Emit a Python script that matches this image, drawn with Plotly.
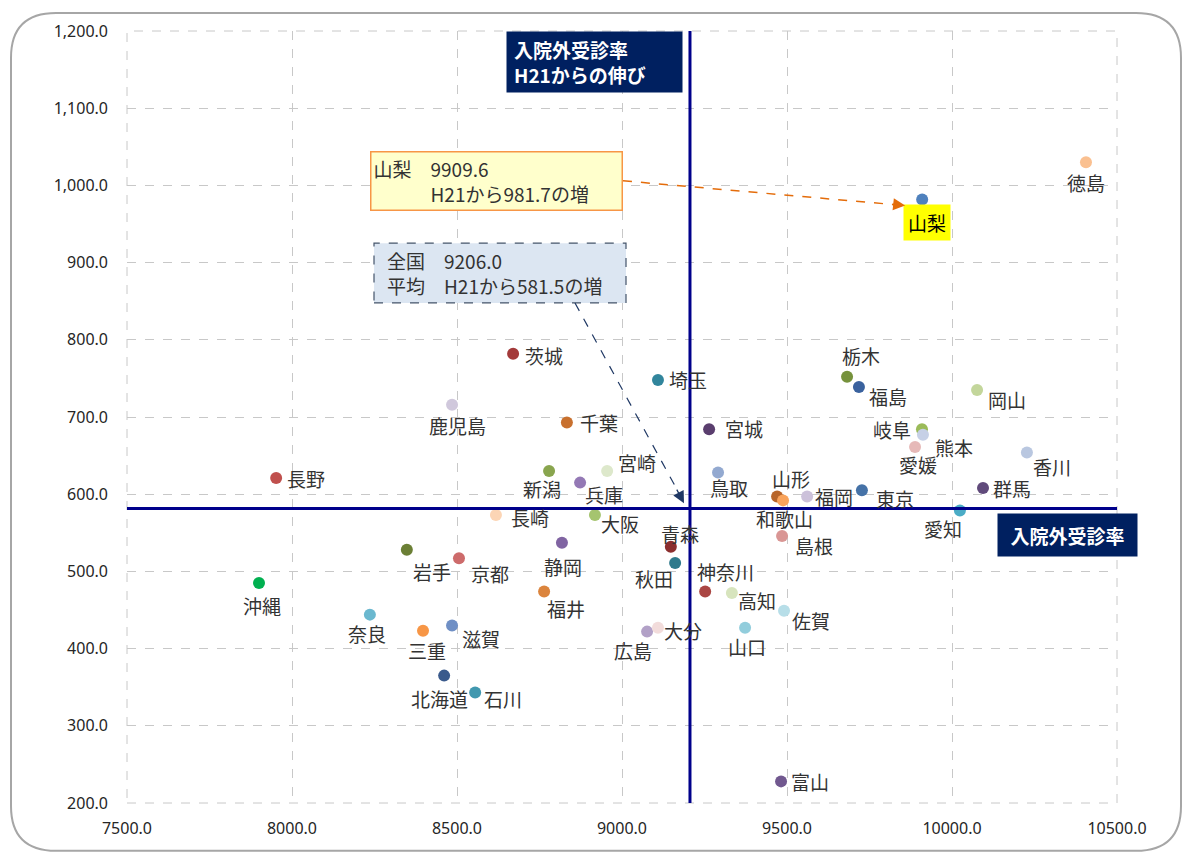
import plotly.graph_objects as go

# 都道府県ごとの入院外受診率 (x) と H21からの伸び (y)
prefs = ["北海道", "青森", "岩手", "宮城", "秋田", "山形", "福島", "茨城", "栃木", "群馬",
         "埼玉", "千葉", "東京", "神奈川", "新潟", "富山", "石川", "福井", "山梨", "長野",
         "岐阜", "静岡", "愛知", "三重", "滋賀", "京都", "大阪", "兵庫", "奈良", "和歌山",
         "鳥取", "島根", "岡山", "広島", "山口", "徳島", "香川", "愛媛", "高知", "福岡",
         "佐賀", "長崎", "熊本", "大分", "宮崎", "鹿児島", "沖縄"]
rate = [8461, 9148, 8348, 9264, 9161, 9470, 9718, 8670, 9682, 10094,
        9109, 8833, 9727, 9252, 8779, 9482, 8555, 8764, 9909.6, 7952,
        9909, 8818, 10024, 8397, 8485, 8506, 8918, 8873, 8236, 9488,
        9291, 9485, 10076, 9076, 9373, 10406, 10227, 9888, 9333, 9561,
        9491, 8618, 9912, 9109, 8955, 8485, 7900]
growth = [365, 532, 528, 684, 511, 597, 739, 782, 752, 608,
          748, 693, 605, 474, 630, 228, 343, 474, 981.7, 621,
          684, 537, 579, 423, 430, 517, 573, 615, 444, 592,
          628, 546, 735, 422, 427, 1030, 654, 661, 472, 597,
          449, 573, 677, 427, 630, 716, 485]
colors = ["#3A5A8C", "#8B2E2E", "#6B7F35", "#5A3E6E", "#2E7A8C", "#B8652A", "#3A629E", "#A33A3A", "#76923C", "#604A7B",
          "#31859C", "#C8702E", "#4572A7", "#AA4643", "#89A54E", "#71588F", "#4198AF", "#DB843D", "#4F81BD", "#C0504D",
          "#9BBB59", "#8064A2", "#4BACC6", "#F79646", "#6F8FC5", "#CD6B6B", "#A5C46F", "#9479B5", "#6BB8CF", "#F9A35B",
          "#93A9D0", "#D99694", "#C3D69B", "#B2A1C7", "#92CDDC", "#FAC090", "#B9C7E0", "#E6B9B8", "#D7E4BD", "#CCC1DA",
          "#B7DEE8", "#FCD5B5", "#C6D0E6", "#F2DCDB", "#DDE8CB", "#D0C8DC", "#00B050"]

avg_rate = 9206.0
avg_growth = 581.5

# ラベルのずらし量 (px)
label_offset = {
    "北海道": (-5, 23), "青森": (9, -13), "岩手": (25, 22), "宮城": (35, -1), "秋田": (-21, 16),
    "山形": (14, -18), "福島": (29, 10), "茨城": (31, 2), "栃木": (14, -21), "群馬": (29, 0),
    "埼玉": (30, 0), "千葉": (32, 0), "東京": (33, 8), "神奈川": (20, -20), "新潟": (-7, 17),
    "富山": (29, 0), "石川": (28, 6), "福井": (22, 17), "長野": (30, 1), "岐阜": (-30, 0),
    "静岡": (1, 24), "愛知": (-17, 18), "三重": (4, 20), "滋賀": (29, 13), "京都": (31, 15),
    "大阪": (25, 8), "兵庫": (24, 12), "奈良": (-3, 19), "和歌山": (1, 18), "鳥取": (11, 15),
    "島根": (32, 10), "岡山": (30, 10), "広島": (-14, 19), "山口": (2, 19), "徳島": (0, 20),
    "香川": (25, 14), "愛媛": (3, 17), "高知": (25, 7), "福岡": (27, 0), "佐賀": (27, 10),
    "長崎": (34, 2), "熊本": (31, 13), "大分": (25, 3), "宮崎": (30, -9), "鹿児島": (5, 21),
    "沖縄": (3, 23),
}

JP = "Noto Sans CJK JP"
NAVY = "#00008B"

fig = go.Figure()

fig.add_trace(go.Scatter(
    x=rate, y=growth, mode="markers",
    marker=dict(color=colors, size=12, line=dict(width=0)),
    text=prefs, hovertemplate="%{text}<br>%{x:.1f}<br>%{y:.1f}<extra></extra>",
    showlegend=False,
))

# 全国平均の線
fig.add_shape(type="line", xref="x", yref="paper", x0=avg_rate, x1=avg_rate, y0=0, y1=1,
              line=dict(color=NAVY, width=3))
fig.add_shape(type="line", xref="paper", yref="y", x0=0, x1=1, y0=avg_growth, y1=avg_growth,
              line=dict(color=NAVY, width=3))

# プロット枠 (点線)
fig.add_shape(type="rect", xref="paper", yref="paper", x0=0, x1=1, y0=0, y1=1,
              line=dict(color="#C8C8C8", width=1, dash="dash"), layer="below")

annotations = []
for name, xv, yv in zip(prefs, rate, growth):
    if name == "山梨":
        continue
    dx, dy = label_offset[name]
    annotations.append(dict(
        x=xv, y=yv, text=name, showarrow=False, xshift=dx, yshift=-dy,
        font=dict(family=JP, size=19, color="#333333"),
    ))

# 山梨 (黄色背景)
i_y = prefs.index("山梨")
annotations.append(dict(
    x=rate[i_y], y=growth[i_y], text="山梨", showarrow=False, xshift=5, yshift=-23,
    bgcolor="#FFFF00", borderpad=4, font=dict(family=JP, size=19, color="#000000"),
))

# 軸見出しボックス
annotations.append(dict(
    xref="paper", yref="paper", x=0.5616, y=1.0, xanchor="right", yanchor="top",
    text="<b>入院外受診率<br>H21からの伸び</b>", align="left", showarrow=False,
    bgcolor="#002060", width=161, height=46, borderpad=7,
    font=dict(family=JP, size=19, color="white"),
))
annotations.append(dict(
    xref="paper", yref="paper", x=0.9505, y=0.347, xanchor="center", yanchor="middle",
    text="<b>入院外受診率</b>", showarrow=False,
    bgcolor="#002060", width=135, height=38, borderpad=2,
    font=dict(family=JP, size=19, color="white"),
))

# 山梨の吹き出し
annotations.append(dict(
    xref="paper", yref="paper", x=(370 - 127) / 990, y=(803 - 178.5) / 775, xanchor="left", yanchor="middle",
    text="山梨　9909.6<br>　　　H21から981.7の増", align="left", showarrow=False,
    bgcolor="#FFFFCC", bordercolor="#F79646", borderwidth=1.5, width=246, height=53, borderpad=2,
    font=dict(family=JP, size=19, color="#333333"),
))
fig.add_shape(type="line", xref="paper", yref="paper",
              x0=0.501, y0=0.806, x1=0.776, y1=0.775,
              line=dict(color="#E46C0A", width=1.5, dash="dash"))
annotations.append(dict(
    xref="paper", yref="paper", x=0.786, y=0.774, text="", showarrow=True,
    ax=-14, ay=-1.5, arrowhead=2, arrowsize=1.6, arrowwidth=1.5, arrowcolor="#E46C0A",
))

# 全国平均の吹き出し
fig.add_shape(type="rect", xref="paper", yref="paper",
              x0=(374 - 127) / 990, x1=(626 - 127) / 990,
              y0=(803 - 301) / 775, y1=(803 - 241) / 775,
              fillcolor="#DCE6F2", line=dict(color="#44546A", width=1.2, dash="dash"))
annotations.append(dict(
    xref="paper", yref="paper", x=(385 - 127) / 990, y=(803 - 271) / 775, xanchor="left", yanchor="middle",
    text="全国　9206.0<br>平均　H21から581.5の増", align="left", showarrow=False,
    font=dict(family=JP, size=19, color="#333333"),
))
fig.add_shape(type="line", xref="paper", yref="paper",
              x0=(575 - 127) / 990, y0=(803 - 301) / 775, x1=(679 - 127) / 990, y1=(803 - 492) / 775,
              line=dict(color="#1F3864", width=1.2, dash="dash"))
annotations.append(dict(
    xref="paper", yref="paper", x=(684 - 127) / 990, y=(803 - 502) / 775, text="", showarrow=True,
    ax=-8, ay=-15, arrowhead=2, arrowsize=1.8, arrowwidth=1.3, arrowcolor="#1F3864",
))

# 外枠 (角丸)
fx0, fx1 = (11 - 127) / 990, (1181 - 127) / 990
fy0, fy1 = (803 - 851) / 775, (803 - 10) / 775
rx, ry = 45 / 990, 45 / 775
frame_path = (f"M {fx0 + rx},{fy1} L {fx1 - rx},{fy1} Q {fx1},{fy1} {fx1},{fy1 - ry} "
              f"L {fx1},{fy0 + ry} Q {fx1},{fy0} {fx1 - rx},{fy0} L {fx0 + rx},{fy0} "
              f"Q {fx0},{fy0} {fx0},{fy0 + ry} L {fx0},{fy1 - ry} Q {fx0},{fy1} {fx0 + rx},{fy1} Z")
fig.add_shape(type="path", xref="paper", yref="paper", path=frame_path,
              line=dict(color="#A6A6A6", width=2), layer="below")

# ページ余白 8px を見込んだサイズ
fig.update_layout(
    width=1175, height=844,
    margin=dict(l=119, r=66, t=20, b=49),
    plot_bgcolor="white", paper_bgcolor="white",
    font=dict(family="Noto Sans", color="#333333", size=16),
    annotations=annotations,
    showlegend=False,
)
fig.update_xaxes(
    range=[7500, 10500], tickvals=[7500, 8000, 8500, 9000, 9500, 10000, 10500], tickformat=".1f",
    showgrid=True, gridcolor="#C8C8C8", griddash="dash", gridwidth=1,
    zeroline=False, showline=False, ticks="", ticklabelstandoff=14,
    tickfont=dict(family="Noto Sans", size=16, color="#262626"),
)
fig.update_yaxes(
    range=[200, 1200], tickvals=[200, 300, 400, 500, 600, 700, 800, 900, 1000, 1100, 1200], tickformat=",.1f",
    showgrid=True, gridcolor="#C8C8C8", griddash="dash", gridwidth=1,
    zeroline=False, showline=False, ticks="", ticklabelstandoff=18,
    tickfont=dict(family="Noto Sans", size=16, color="#262626"),
)

fig.write_html("out.html")
